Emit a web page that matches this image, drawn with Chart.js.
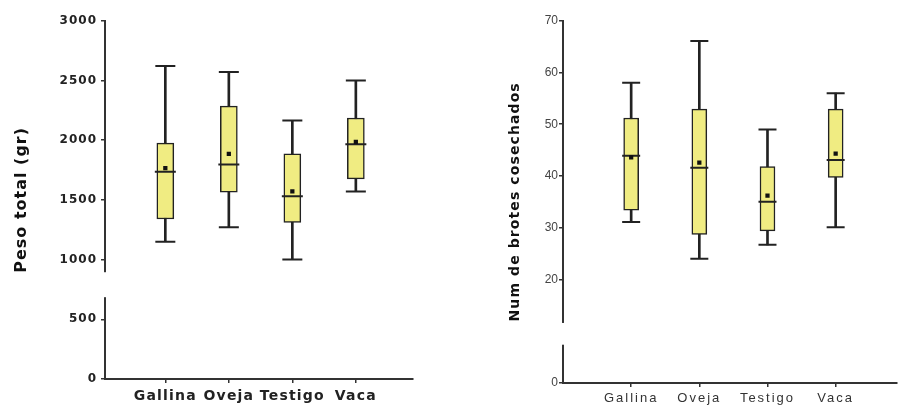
<!DOCTYPE html>
<html>
<head>
<meta charset="utf-8">
<script src="https://cdn.jsdelivr.net/npm/chart.js@4.4.0/dist/chart.umd.min.js"></script>
<style>
  body { margin: 0; background: #fff; }
  .panel { position: absolute; top: 0; width: 454px; height: 406px; }
</style>
</head>
<body>
<div class="panel" style="left:0"><canvas id="pesoChart"></canvas></div>
<div class="panel" style="left:454px"><canvas id="brotesChart"></canvas></div>
<script>
const categories = ['Gallina', 'Oveja', 'Testigo', 'Vaca'];

// Peso total (gr)
const pesoMin    = [1150, 1270, 1000, 1570];
const pesoQ1     = [1340, 1565, 1310, 1675];
const pesoMedian = [1735, 1795, 1530, 1965];
const pesoQ3     = [1975, 2285, 1885, 2185];
const pesoMax    = [2620, 2570, 2165, 2500];
const pesoMean   = [1765, 1885, 1570, 1985];
const pesoTicks  = [0, 500, 1000, 1500, 2000, 2500, 3000];

// Num de brotes cosechados
const brotesMin    = [31.1, 24.0, 26.7, 30.1];
const brotesQ1     = [33.4, 28.7, 29.4, 39.7];
const brotesMedian = [43.9, 41.6, 35.0, 43.1];
const brotesQ3     = [51.2, 52.9, 41.8, 52.9];
const brotesMax    = [58.0, 66.1, 49.0, 56.0];
const brotesMean   = [43.6, 42.6, 36.2, 44.3];
const brotesTicks  = [0, 20, 30, 40, 50, 60, 70];

Chart.defaults.font.family = "'Liberation Sans', Arial, sans-serif";
Chart.defaults.color = '#222';
const heavy = "'DejaVu Sans', 'Liberation Sans', sans-serif";

// wraps scale drawing so tick labels / titles get letter spacing
function spacing(conf) {
    return {
        id: 'spacing',
        beforeDraw(chart) {
            Object.keys(conf).forEach(id => {
                const scale = chart.scales[id];
                if (!scale || scale._spaced) return;
                const wrap = (name, px) => {
                    const orig = scale[name];
                    scale[name] = function () {
                        const prev = this.ctx.letterSpacing;
                        this.ctx.letterSpacing = px + 'px';
                        orig.apply(this, arguments);
                        this.ctx.letterSpacing = prev;
                    };
                };
                if (conf[id].ticks) wrap('drawLabels', conf[id].ticks);
                if (conf[id].title) wrap('drawTitle', conf[id].title);
                scale._spaced = true;
            });
        }
    };
}

// white gap in the y axis line
function axisBreak(from, to) {
    return {
        id: 'axisBreak',
        afterDraw(chart) {
            const ctx = chart.ctx;
            const y = chart.scales.y;
            const top = y.getPixelForValue(to);
            const bottom = y.getPixelForValue(from);
            ctx.save();
            ctx.fillStyle = '#fff';
            ctx.fillRect(y.right - 4, top, 8, bottom - top);
            ctx.restore();
        }
    };
}

function boxDatasets(mins, q1s, medians, q3s, maxs, means, sizes) {
    const at = vals => vals.map((v, i) => ({ x: i + 1, y: v }));
    const range = (a, b) => a.map((v, i) => ({ x: i + 1, y: [v, b[i]] }));
    return [
        {
            type: 'scatter', data: at(means), order: 0,
            pointStyle: 'rect', pointRadius: 3, pointBorderWidth: 0,
            backgroundColor: '#111'
        },
        {
            type: 'scatter', data: at(medians), order: 1,
            pointStyle: 'line', pointRadius: sizes.median, pointBorderWidth: 2,
            borderColor: '#222'
        },
        {
            type: 'scatter', data: at(mins).concat(at(maxs)), order: 2,
            pointStyle: 'line', pointRadius: sizes.cap, pointBorderWidth: 2,
            borderColor: '#222'
        },
        {
            type: 'bar', data: range(q1s, q3s), order: 3,
            backgroundColor: '#f0ec82', borderColor: '#222', borderWidth: 1.5,
            borderSkipped: false, barThickness: sizes.box, grouped: false
        },
        {
            type: 'bar', data: range(mins, maxs), order: 4,
            backgroundColor: '#222', barThickness: 2, grouped: false
        }
    ];
}

function makeChart(id, cfg) {
    return new Chart(document.getElementById(id), {
        type: 'bar',
        data: { datasets: cfg.datasets },
        options: {
            responsive: true,
            maintainAspectRatio: false,
            animation: false,
            layout: { padding: cfg.padding },
            plugins: { legend: { display: false }, tooltip: { enabled: false } },
            scales: {
                x: {
                    type: 'linear', min: cfg.xMin, max: cfg.xMax, offset: false,
                    afterBuildTicks: s => { s.ticks = categories.map((c, i) => ({ value: i + 1 })); },
                    afterFit: s => { s.height = cfg.xHeight; },
                    ticks: {
                        callback: v => categories[v - 1],
                        font: cfg.xFont, color: cfg.xColor, padding: cfg.xPad,
                        maxRotation: 0, autoSkip: false
                    },
                    grid: { offset: false, drawOnChartArea: false, tickLength: 4, color: '#333', lineWidth: 1.5 },
                    border: { color: '#333', width: 2 }
                },
                y: {
                    min: cfg.yMin, max: cfg.yMax,
                    afterBuildTicks: s => { s.ticks = cfg.yTicks.map(v => ({ value: v })); },
                    afterFit: s => { s.width = cfg.yWidth; },
                    ticks: { font: cfg.yFont, color: cfg.yColor, padding: cfg.yPad, callback: v => String(v) },
                    title: {
                        display: true, text: cfg.title, color: '#111',
                        font: cfg.titleFont, padding: { top: cfg.titlePad, bottom: 0 }
                    },
                    grid: { drawOnChartArea: false, tickLength: 4, color: '#333', lineWidth: 1.5 },
                    border: { color: '#333', width: 2 }
                }
            }
        },
        plugins: [spacing(cfg.spacing), axisBreak(cfg.breakFrom, cfg.breakTo)]
    });
}

makeChart('pesoChart', {
    datasets: boxDatasets(pesoMin, pesoQ1, pesoMedian, pesoQ3, pesoMax, pesoMean,
        { box: 17, cap: 10, median: 10.5 }),
    padding: { top: 20.7, right: 41, left: 0, bottom: 0 },
    xMin: 0.05, xMax: 4.9, xHeight: 27, xPad: 5,
    xFont: { family: heavy, size: 14, weight: 'bold' }, xColor: '#222',
    yMin: 0, yMax: 3000, yTicks: pesoTicks, yWidth: 105, yPad: 4,
    yFont: { family: heavy, size: 12, weight: 'bold' }, yColor: '#222',
    title: 'Peso total (gr)', titleFont: { family: heavy, size: 16, weight: 'bold' }, titlePad: 12,
    spacing: { x: { ticks: 1.2 }, y: { ticks: 1, title: 1 } },
    breakFrom: 685, breakTo: 894
});

makeChart('brotesChart', {
    datasets: boxDatasets(brotesMin, brotesQ1, brotesMedian, brotesQ3, brotesMax, brotesMean,
        { box: 15, cap: 9, median: 9 }),
    padding: { top: 20.7, right: 3, left: 0, bottom: 0 },
    xMin: 0, xMax: 4.9, xHeight: 23, xPad: 4,
    xFont: { size: 13 }, xColor: '#333',
    yMin: 0, yMax: 70, yTicks: brotesTicks, yWidth: 109, yPad: 1,
    yFont: { size: 12 }, yColor: '#444',
    title: 'Num de brotes cosechados', titleFont: { family: heavy, size: 14, weight: 'bold' }, titlePad: 53,
    spacing: { x: { ticks: 2 }, y: { title: 1.1 } },
    breakFrom: 7.4, breakTo: 11.6
});
</script>
</body>
</html>
